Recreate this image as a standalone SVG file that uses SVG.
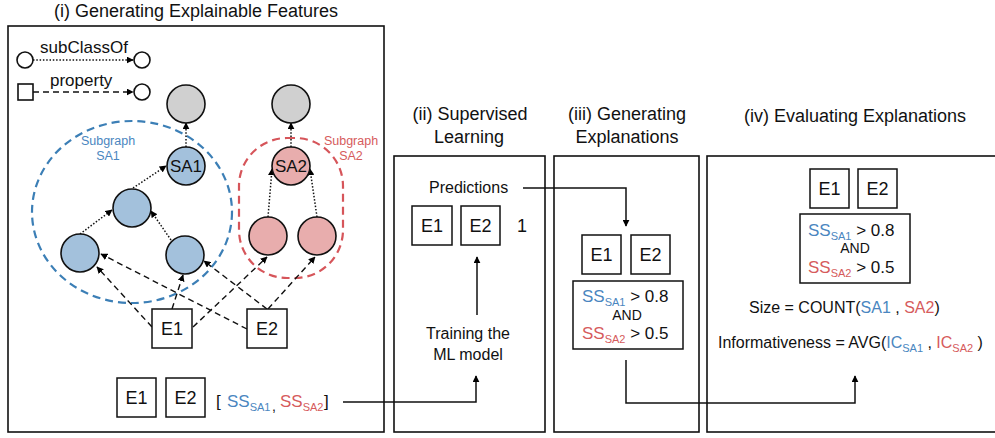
<svg xmlns="http://www.w3.org/2000/svg" width="995" height="438" viewBox="0 0 995 438">
  <defs>
    <marker id="arr" viewBox="0 0 10 10" refX="9" refY="5" markerWidth="7" markerHeight="7" markerUnits="userSpaceOnUse" orient="auto">
      <path d="M0,0 L10,5 L0,10 z" fill="#000"/>
    </marker>
    <style>
      text { font-family: "Liberation Sans", Arial, Helvetica, sans-serif; fill: #111; }
      .title { font-size: 18px; text-anchor: middle; }
      .panel { fill: none; stroke: #111; stroke-width: 1.6; }
      .box { fill: #fff; stroke: #111; stroke-width: 1.5; }
      .ent { font-size: 18px; text-anchor: middle; }
      .lbl { font-size: 16px; }
      .blue { fill: #4a86c0; }
      .red { fill: #d65b5c; }
      .sub { font-size: 11px; }
      .dot { fill: none; stroke: #111; stroke-width: 1.5; stroke-dasharray: 1.5 1.8; marker-end: url(#arr); }
      .dash { fill: none; stroke: #111; stroke-width: 1.4; stroke-dasharray: 6 4; marker-end: url(#arr); }
      .flow { fill: none; stroke: #111; stroke-width: 1.5; }
      .node { stroke: #111; stroke-width: 1.6; }
      .cBlue { fill: #a3c1dc; }
      .cRed { fill: #e8adad; }
      .cGray { fill: #d0d0d0; }
      .cWhite { fill: #fff; }
    </style>
  </defs>
  <rect width="995" height="438" fill="#fff"/>

  <!-- Section titles -->
  <text class="title" x="196" y="17">(i) Generating Explainable Features</text>
  <text class="title" x="470" y="120">(ii) Supervised</text>
  <text class="title" x="469" y="143">Learning</text>
  <text class="title" x="627" y="120">(iii) Generating</text>
  <text class="title" x="627" y="143">Explanations</text>
  <text class="title" x="855" y="122">(iv) Evaluating Explanations</text>

  <!-- Panel frames -->
  <rect class="panel" x="8" y="26" width="376" height="406"/>
  <rect class="panel" x="394" y="156" width="151" height="276"/>
  <rect class="panel" x="554" y="156" width="145" height="276"/>
  <rect class="panel" x="707" y="156" width="292" height="276"/>

  <!-- Legend -->
  <g id="legend">
    <circle class="node cWhite" cx="25" cy="60" r="8"/>
    <line class="dot" x1="33" y1="60" x2="133" y2="60"/>
    <circle class="node cWhite" cx="142" cy="60" r="8"/>
    <text class="lbl" x="40" y="53" style="font-size:17px">subClassOf</text>
    <rect class="node cWhite" x="18" y="84" width="15" height="16"/>
    <line class="dash" x1="33" y1="92" x2="133" y2="92"/>
    <circle class="node cWhite" cx="142" cy="92" r="8"/>
    <text class="lbl" x="50" y="86" style="font-size:17px">property</text>
  </g>

  <!-- Subgraph outlines -->
  <g id="subgraph-sa1">
    <ellipse cx="132" cy="212" rx="100" ry="91" fill="none" stroke="#3c7fb6" stroke-width="2.2" stroke-dasharray="8 5"/>
    <text class="blue" x="108" y="145" text-anchor="middle" style="font-size:12.5px">Subgraph</text>
    <text class="blue" x="108" y="160" text-anchor="middle" style="font-size:12.5px">SA1</text>
  </g>
  <g id="subgraph-sa2">
    <rect x="239" y="138" width="104" height="140" rx="48" ry="48" fill="none" stroke="#d6555a" stroke-width="2.2" stroke-dasharray="8 5"/>
    <text class="red" x="351" y="145" text-anchor="middle" style="font-size:12.5px">Subgraph</text>
    <text class="red" x="351" y="160" text-anchor="middle" style="font-size:12.5px">SA2</text>
  </g>

  <!-- Edges of the knowledge graph -->
  <g id="connectors">
    <line class="dot" x1="80" y1="234" x2="112" y2="210"/>
    <line class="dot" x1="133" y1="188" x2="166" y2="166"/>
    <line class="dot" x1="171" y1="240" x2="151" y2="211"/>
    <line class="dot" x1="186" y1="147" x2="186" y2="123"/>
    <line class="dot" x1="291" y1="147" x2="291" y2="123"/>
    <line class="dot" x1="268" y1="217" x2="272" y2="169"/>
    <line class="dot" x1="317" y1="217" x2="310" y2="169"/>

    <line class="dash" x1="152" y1="327" x2="97" y2="267"/>
    <line class="dash" x1="172" y1="309" x2="183" y2="275"/>
    <line class="dash" x1="193" y1="327" x2="267" y2="257"/>
    <line class="dash" x1="247" y1="329" x2="101" y2="254"/>
    <line class="dash" x1="267" y1="309" x2="204" y2="261"/>
    <line class="dash" x1="268" y1="309" x2="315" y2="257"/>

    <!-- Pipeline flow -->
    <polyline class="flow" points="343,402 476,402 476,376" marker-end="url(#arr)"/>
    <line class="flow" x1="477" y1="315" x2="477" y2="257" marker-end="url(#arr)"/>
    <polyline class="flow" points="523,188 626,188 626,226" marker-end="url(#arr)"/>
    <polyline class="flow" points="626,360 626,403 855,403 855,376" marker-end="url(#arr)"/>
  </g>

  <!-- Concept nodes -->
  <g id="gray1"><circle class="node cGray" cx="186" cy="104" r="19"/></g>
  <g id="gray2"><circle class="node cGray" cx="291" cy="104" r="19"/></g>
  <g id="sa1">
    <circle class="node cBlue" cx="186" cy="166" r="19"/>
    <text x="186" y="172" text-anchor="middle" style="font-size:17px">SA1</text>
  </g>
  <g id="sa2">
    <circle class="node cRed" cx="291" cy="166" r="19"/>
    <text x="291" y="172" text-anchor="middle" style="font-size:17px">SA2</text>
  </g>
  <g id="blue-mid"><circle class="node cBlue" cx="132" cy="208" r="19"/></g>
  <g id="blue-left"><circle class="node cBlue" cx="80" cy="253" r="19"/></g>
  <g id="blue-right"><circle class="node cBlue" cx="185" cy="255" r="19"/></g>
  <g id="red-left"><circle class="node cRed" cx="268" cy="236" r="19"/></g>
  <g id="red-right"><circle class="node cRed" cx="317" cy="236" r="19"/></g>

  <!-- Entities in the graph -->
  <g id="e1-graph">
    <rect class="box" x="152" y="309" width="40" height="39"/>
    <text class="ent" x="172" y="335">E1</text>
  </g>
  <g id="e2-graph">
    <rect class="box" x="247" y="309" width="40" height="39"/>
    <text class="ent" x="267" y="335">E2</text>
  </g>

  <!-- Feature vectors -->
  <g id="features">
    <rect class="box" x="117" y="378" width="39" height="39"/>
    <text class="ent" x="136.5" y="404">E1</text>
    <rect class="box" x="166" y="378" width="39" height="39"/>
    <text class="ent" x="185.5" y="404">E2</text>
    <text x="216" y="407" style="font-size:17px">[</text>
    <text class="blue" x="227" y="407" style="font-size:17px">SS<tspan class="sub" dy="4">SA1</tspan></text>
    <text x="272" y="411" style="font-size:14px">,</text>
    <text class="red" x="280" y="407" style="font-size:17px">SS<tspan class="sub" dy="4">SA2</tspan></text>
    <text x="324" y="407" style="font-size:17px">]</text>
  </g>

  <!-- Supervised learning -->
  <g id="predictions">
    <text class="lbl" x="429" y="193">Predictions</text>
    <rect class="box" x="412" y="206" width="40" height="39"/>
    <text class="ent" x="432" y="232">E1</text>
    <rect class="box" x="461" y="206" width="39" height="39"/>
    <text class="ent" x="480.5" y="232">E2</text>
    <text x="517" y="232" style="font-size:18px">1</text>
  </g>
  <g id="training">
    <text class="lbl" x="468" y="339" text-anchor="middle">Training the</text>
    <text class="lbl" x="468" y="360" text-anchor="middle">ML model</text>
  </g>

  <!-- Generated explanation -->
  <g id="explanation">
    <rect class="box" x="582" y="235" width="39" height="39"/>
    <text class="ent" x="601.5" y="261">E1</text>
    <rect class="box" x="631" y="235" width="39" height="39"/>
    <text class="ent" x="650.5" y="261">E2</text>
    <rect class="box" x="573" y="281" width="110" height="68"/>
    <text x="582" y="302" style="font-size:17px"><tspan class="blue">SS</tspan><tspan class="blue sub" dy="4">SA1</tspan><tspan dy="-4"> &gt; 0.8</tspan></text>
    <text x="627" y="320" text-anchor="middle" style="font-size:14px">AND</text>
    <text x="582" y="339" style="font-size:17px"><tspan class="red">SS</tspan><tspan class="red sub" dy="4">SA2</tspan><tspan dy="-4"> &gt; 0.5</tspan></text>
  </g>

  <!-- Evaluation -->
  <g id="evaluation">
    <rect class="box" x="810" y="169" width="39" height="39"/>
    <text class="ent" x="829.5" y="195">E1</text>
    <rect class="box" x="858" y="169" width="39" height="39"/>
    <text class="ent" x="877.5" y="195">E2</text>
    <rect class="box" x="800" y="214" width="110" height="69"/>
    <text x="808" y="236" style="font-size:17px"><tspan class="blue">SS</tspan><tspan class="blue sub" dy="4">SA1</tspan><tspan dy="-4"> &gt; 0.8</tspan></text>
    <text x="855" y="253" text-anchor="middle" style="font-size:14px">AND</text>
    <text x="808" y="273" style="font-size:17px"><tspan class="red">SS</tspan><tspan class="red sub" dy="4">SA2</tspan><tspan dy="-4"> &gt; 0.5</tspan></text>
    <text class="lbl" x="749" y="313">Size = COUNT(<tspan class="blue">SA1</tspan> , <tspan class="red">SA2</tspan>)</text>
    <text class="lbl" x="718" y="348">Informativeness = AVG(<tspan class="blue">IC</tspan><tspan class="blue sub" dy="4">SA1</tspan><tspan dy="-4"> , </tspan><tspan class="red">IC</tspan><tspan class="red sub" dy="4">SA2</tspan><tspan dy="-4"> )</tspan></text>
  </g>
</svg>
